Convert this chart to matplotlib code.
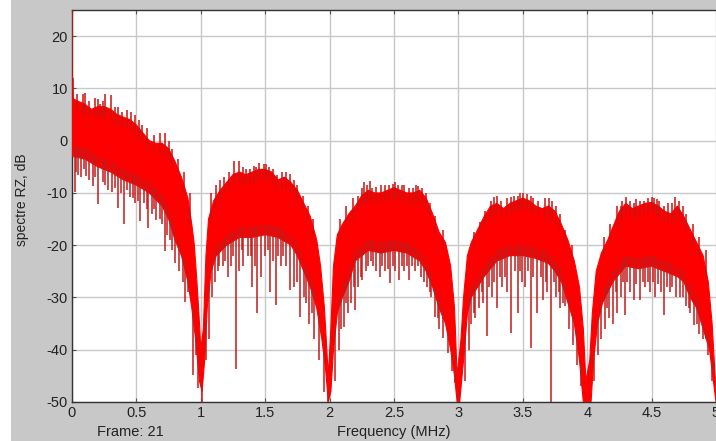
import numpy as np
import matplotlib
matplotlib.use('Agg')
import matplotlib.pyplot as plt
from matplotlib.patches import Rectangle

plt.rcParams['font.family'] = ['Liberation Sans', 'DejaVu Sans']
plt.rcParams['axes.unicode_minus'] = False

# enveloppe haute du spectre (MHz, dB)
up_f = [0.0, 0.01, 0.05, 0.1, 0.15, 0.2, 0.25, 0.3, 0.35, 0.4, 0.45, 0.5, 0.55, 0.6, 0.65, 0.7,
        0.75, 0.8, 0.85, 0.9, 0.93, 0.95, 0.97, 0.99, 1.0,
        1.02, 1.04, 1.06, 1.1, 1.15, 1.2, 1.25, 1.3, 1.35, 1.4, 1.45, 1.5, 1.55, 1.6, 1.65, 1.7,
        1.75, 1.8, 1.85, 1.9, 1.93, 1.96, 1.99,
        2.01, 2.03, 2.06, 2.1, 2.15, 2.2, 2.25, 2.3, 2.35, 2.4, 2.45, 2.5, 2.55, 2.6, 2.65, 2.7,
        2.75, 2.8, 2.85, 2.9, 2.94, 2.97, 2.99,
        3.02, 3.04, 3.07, 3.1, 3.15, 3.2, 3.25, 3.3, 3.35, 3.4, 3.45, 3.5, 3.55, 3.6, 3.65, 3.7,
        3.75, 3.8, 3.85, 3.9, 3.94, 3.97, 3.99,
        4.02, 4.04, 4.07, 4.11, 4.16, 4.2, 4.25, 4.3, 4.35, 4.4, 4.45, 4.5, 4.55, 4.6, 4.65, 4.7,
        4.75, 4.8, 4.85, 4.9, 4.94, 4.97, 5.0]
up_db = [12, 8, 7.5, 7, 6, 6.5, 6.5, 6, 5, 4.5, 4, 3, 1.5, 0, -0.5, -0.5,
         -1.5, -4, -7, -11, -16, -20, -27, -35, -40,
         -36, -22, -15, -11.5, -9.5, -8, -6.5, -6, -6.5, -6, -5.5, -5.5, -6, -7.5, -7, -8,
         -9.5, -12, -14.5, -19, -24, -32, -45,
         -36, -24, -18, -16, -14, -12.5, -10.5, -9.5, -10, -10, -9.5, -9, -9.5, -10, -10, -9.5,
         -11, -14, -17.5, -19.5, -24, -32, -45,
         -38, -30, -22, -19.5, -17, -14.5, -12.5, -12, -13, -12, -11.5, -11, -11.5, -12.5, -13, -12.5,
         -13.5, -16, -19, -23, -28, -36, -46,
         -42, -33, -25, -21.5, -19, -16.5, -13.5, -12, -13, -12.5, -12, -11.8, -12.5, -13.5, -14, -12.5,
         -14.5, -17, -19.5, -22, -27, -35, -48]

# bas de la partie dense
low_f = [0.0, 0.1, 0.2, 0.3, 0.4, 0.5, 0.6, 0.7, 0.75, 0.8, 0.85, 0.9, 0.93, 0.96, 0.99, 1.01,
         1.03, 1.05, 1.08, 1.12, 1.2, 1.3, 1.4, 1.5, 1.6, 1.7, 1.75, 1.8, 1.85, 1.9, 1.94, 1.97, 1.99,
         2.01, 2.03, 2.06, 2.1, 2.15, 2.2, 2.3, 2.4, 2.5, 2.6, 2.7, 2.75, 2.8, 2.85, 2.9, 2.94, 2.97, 2.99,
         3.01, 3.04, 3.07, 3.1, 3.2, 3.3, 3.4, 3.5, 3.6, 3.7, 3.75, 3.8, 3.85, 3.9, 3.94, 3.97, 4.03,
         4.05, 4.08, 4.12, 4.2, 4.3, 4.4, 4.5, 4.6, 4.7, 4.75, 4.8, 4.85, 4.9, 4.95, 5.0]
low_db = [-3, -3.5, -5, -6, -7.5, -8.5, -10, -12.5, -15, -19, -22, -27, -32, -38, -46, -48,
          -42, -32, -25, -22, -20, -18.5, -18.5, -18, -18.5, -20, -22, -25, -28, -32, -38, -44, -50,
          -48, -40, -33, -30, -27, -23, -21, -21.5, -21, -21.5, -23, -25, -28, -32, -35, -40, -45, -50,
          -50, -42, -33, -30, -26, -23, -22, -22, -22.5, -23.5, -25, -27, -31, -35, -42, -50, -50,
          -42, -35, -31, -27, -24, -24.5, -24, -25, -26, -27, -30, -32, -36, -40, -50]

# pics vers le bas
dip_f = [0.02, 0.05, 0.07, 0.11, 0.16, 0.2, 0.24, 0.28, 0.31, 0.36, 0.4, 0.43, 0.45, 0.49, 0.53,
         0.56, 0.59, 0.62, 0.65, 0.68, 0.72, 0.76, 0.8, 0.83, 0.88, 0.9, 0.94, 0.96, 0.98, 1.01,
         1.04, 1.06, 1.09, 1.11, 1.14, 1.17, 1.21, 1.235, 1.27, 1.3, 1.33, 1.37, 1.4, 1.44, 1.47,
         1.5, 1.54, 1.58, 1.62, 1.66, 1.69, 1.72, 1.77, 1.8, 1.84, 1.88, 1.92, 1.96, 1.99,
         2.04, 2.07, 2.09, 2.11, 2.14, 2.17, 2.195, 2.22, 2.25, 2.28, 2.32, 2.36, 2.39, 2.43, 2.47,
         2.51, 2.54, 2.58, 2.62, 2.66, 2.69, 2.73, 2.76, 2.79, 2.82, 2.85, 2.88, 2.92, 2.95, 2.97, 3.0,
         3.05, 3.08, 3.1, 3.13, 3.16, 3.19, 3.22, 3.26, 3.3, 3.34, 3.38, 3.41, 3.46, 3.49, 3.52,
         3.56, 3.61, 3.66, 3.69, 3.72, 3.76, 3.79, 3.83, 3.86, 3.89, 3.92, 3.95,
         4.05, 4.08, 4.11, 4.14, 4.17, 4.2, 4.23, 4.26, 4.29, 4.33, 4.36, 4.41, 4.45, 4.49, 4.53,
         4.57, 4.6, 4.64, 4.69, 4.72, 4.77, 4.8, 4.83, 4.87, 4.9, 4.94, 4.97,
         # petits pics
         0.03, 0.09, 0.13, 0.18, 0.26, 0.33, 0.38, 0.47, 0.51, 0.58, 0.64, 0.7, 0.74, 0.78, 0.86,
         1.13, 1.19, 1.25, 1.32, 1.39, 1.42, 1.52, 1.56, 1.6, 1.64, 1.75, 1.82, 1.86,
         2.13, 2.19, 2.24, 2.3, 2.34, 2.41, 2.45, 2.49, 2.56, 2.6, 2.64, 2.71, 2.78, 2.84,
         3.12, 3.18, 3.24, 3.28, 3.32, 3.36, 3.44, 3.48, 3.54, 3.58, 3.64, 3.68, 3.74, 3.78, 3.81,
         4.15, 4.22, 4.28, 4.31, 4.38, 4.43, 4.47, 4.51, 4.55, 4.62, 4.66, 4.74, 4.79, 4.85, 4.92]
dip_db = [-9.9, -6.5, -7, -6.8, -8.6, -12.1, -8, -9.5, -9.9, -12.8, -16, -9.5, -10.8, -12, -15.4,
          -12, -16.7, -14, -15.1, -15, -21.2, -19, -23.4, -25, -30.8, -29, -44.9, -41, -47.4, -50,
          -42, -38, -30, -27, -24, -24, -26, -24, -43.7, -25, -24, -22, -28, -33, -26,
          -22, -29, -31.5, -24, -24, -28.5, -28, -33.8, -30, -35, -38, -42, -48, -50,
          -46, -40, -36, -35.6, -33, -31, -32.4, -28, -26.7, -25, -23, -25, -26, -25, -27.3,
          -25, -26.7, -25, -26.7, -25, -24, -27, -28, -30, -33.7, -36, -37.8, -40.7, -44, -46.4, -50,
          -46, -40, -35, -34, -32, -31, -37.4, -30, -32, -28, -29, -36.8, -33, -27, -28,
          -39.6, -33, -30.4, -29, -50, -30, -32, -31.7, -36, -39, -43, -47,
          -46, -41, -38, -36, -34, -35, -33, -30, -33.3, -29, -30.4, -30.4, -28, -29, -30,
          -29, -33.3, -29, -30, -30, -31.7, -33, -35.2, -37, -38, -41, -46,
          -6, -5.5, -7.5, -7, -8.5, -9, -10, -11, -11.5, -13, -13, -16, -18, -21, -27,
          -25, -23, -22, -21, -22, -24, -21, -23, -22, -22, -27, -31, -33,
          -31, -28, -26, -24, -24, -24, -24.5, -24, -24, -24, -24, -26, -29, -34,
          -33, -29, -28, -27, -26, -26, -25, -25, -25, -26, -26, -27, -27, -29, -31,
          -32, -29, -27, -27, -27.5, -27, -27, -27, -27.5, -28, -28, -30, -32, -35, -38]

# pics vers le haut
peak_f = [0.0, 0.005, 0.085, 0.1, 0.18, 0.22, 0.26, 0.3, 0.39, 0.43, 0.49, 0.54, 0.68, 0.72, 0.78,
          1.18, 1.22, 1.26, 1.3, 1.35, 1.41, 1.45, 1.49, 1.51, 1.56, 1.66, 1.69, 1.72,
          2.22, 2.27, 2.31, 2.36, 2.4, 2.49, 2.53, 2.58, 2.62, 2.69, 2.72,
          3.25, 3.28, 3.3, 3.43, 3.48, 3.5, 3.53, 3.58, 3.67, 3.7, 3.73,
          4.26, 4.27, 4.3, 4.38, 4.44, 4.5, 4.52, 4.56, 4.68, 4.71, 4.74,
          0.04, 0.13, 0.2, 0.24, 0.33, 0.36, 0.46, 0.52, 0.58, 0.64, 0.75, 0.82, 0.87, 0.92,
          1.08, 1.12, 1.15, 1.33, 1.38, 1.43, 1.53, 1.59, 1.63, 1.75, 1.79, 1.83, 1.87,
          2.08, 2.13, 2.18, 2.25, 2.29, 2.33, 2.43, 2.46, 2.51, 2.56, 2.65, 2.67, 2.75, 2.78, 2.82, 2.88,
          3.12, 3.17, 3.21, 3.33, 3.38, 3.41, 3.46, 3.56, 3.62, 3.76, 3.79, 3.83, 3.88,
          4.13, 4.18, 4.23, 4.33, 4.36, 4.41, 4.47, 4.54, 4.6, 4.63, 4.66, 4.77, 4.82, 4.87, 4.92]
peak_db = [25, 12, 9, 9.2, 8.2, 7, 9, 8.7, 5.5, 5.8, 5, 3, 1.5, 1.5, -1.5,
           -7, -6, -3.8, -3.8, -5.5, -4.8, -4.3, -4.5, -4.5, -5.4, -6, -6.3, -7.5,
           -10.5, -8, -7.7, -8.8, -8.5, -8.3, -8.5, -8.5, -9, -8.6, -9,
           -11.5, -10.8, -10.5, -10.5, -10, -10, -10.2, -11, -11, -11, -11.5,
           -12.5, -11.5, -10.8, -11.2, -11.5, -10.8, -11, -11.5, -10.8, -11.5, -12.5,
           9, 7.5, 8, 7.5, 6.5, 6.5, 5.5, 4, 2.5, 1, 0, -3.5, -6, -10,
           -10, -8.5, -7.5, -5, -5.5, -5, -5, -6.5, -6, -8.5, -10.5, -12.5, -15,
           -15, -12.5, -11, -9, -8.5, -9, -8.5, -8.5, -8, -8.5, -9, -8.5, -10, -12, -14.5, -17,
           -17.5, -15.5, -13.5, -11.5, -11, -10.8, -10.5, -10.5, -11.5, -12.5, -14, -17, -20,
           -18.5, -16, -12.5, -11.5, -12, -11.5, -11, -11.2, -12.5, -12, -12, -14, -16, -18.5, -21]

x_ticks = [0, 0.5, 1, 1.5, 2, 2.5, 3, 3.5, 4, 4.5, 5]
x_labels = ['0', '0.5', '1', '1.5', '2', '2.5', '3', '3.5', '4', '4.5', '5']
y_ticks = [-50, -40, -30, -20, -10, 0, 10, 20]

fig = plt.figure(figsize=(7.16, 4.41), dpi=100, facecolor='#c8c8c8')
# bande blanche a gauche de la capture
fig.patches.append(Rectangle((0, 0), 11 / 716, 1, transform=fig.transFigure,
                             facecolor='white', edgecolor='none', zorder=0))

ax = fig.add_axes([72 / 716, 39 / 441, 644 / 716, 392 / 441])
ax.set_facecolor('white')

poly_x = np.r_[up_f, low_f[::-1]]
poly_y = np.r_[up_db, low_db[::-1]]
ax.fill(poly_x, poly_y, color='#ff0000', lw=0.8, ec='#ff0000', zorder=3)

dip_top = np.interp(dip_f, low_f, low_db) + 2
ax.vlines(dip_f, dip_db, dip_top, colors='#c41a1a', lw=1.1, zorder=4)
peak_bot = np.interp(peak_f, up_f, up_db) - 2
ax.vlines(peak_f, peak_bot, peak_db, colors='#d01010', lw=1.1, zorder=4)

ax.set_xlim(0, 5)
ax.set_ylim(-50, 25)
ax.set_xticks(x_ticks)
ax.set_xticklabels(x_labels)
ax.set_yticks(y_ticks)
ax.grid(True, color='#c8c8c8', lw=1)
ax.set_axisbelow(True)
ax.tick_params(axis='both', direction='in', length=3, labelsize=10.5,
               labelcolor='#222222', color='#555555', pad=3, top=True)
for side in ['left', 'bottom', 'top']:
    ax.spines[side].set_color('#333333')
    ax.spines[side].set_linewidth(1)
ax.spines['right'].set_visible(False)

fig.text(22 / 716, 1 - 200 / 441, 'spectre RZ, dB', rotation=90, ha='center', va='center',
         fontsize=10, color='#222222')
fig.text(97 / 716, 1 - 432 / 441, 'Frame: 21', ha='left', va='center', fontsize=10.5, color='#222222')
fig.text(394 / 716, 1 - 432 / 441, 'Frequency (MHz)', ha='center', va='center', fontsize=10.5,
         color='#222222')

fig.savefig('out.png', dpi=100, facecolor=fig.get_facecolor())
